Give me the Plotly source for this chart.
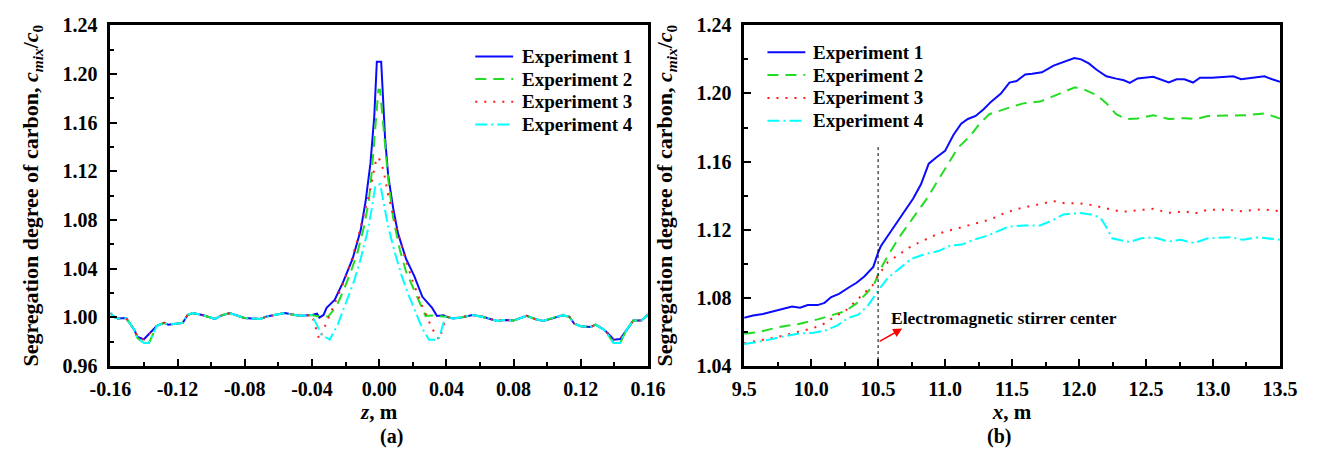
import plotly.graph_objects as go

# ---------------- Panel (a) data ----------------
z_wing_left = [-0.16, -0.1573, -0.1554, -0.1506, -0.1458, -0.1438, -0.140, -0.137, -0.1323, -0.128,
               -0.1255, -0.1169, -0.114, -0.111, -0.1053, -0.0976, -0.0938, -0.0889, -0.0803, -0.0707,
               -0.0668, -0.0562, -0.0476, -0.040]
c_wing_left_13 = [1.0035, 1.000, 0.999, 0.9995, 0.990, 0.984, 0.982, 0.986, 0.993, 0.9955,
                  0.994, 0.9955, 1.002, 1.0035, 1.002, 0.9987, 1.0016, 1.0035, 0.9995, 0.9987,
                  1.0008, 1.0035, 1.0013, 1.002]
c_wing_left_24 = [1.0035, 1.000, 0.999, 0.9995, 0.990, 0.983, 0.979, 0.979, 0.993, 0.9955,
                  0.994, 0.9955, 1.002, 1.0035, 1.002, 0.9987, 1.0016, 1.0035, 0.9995, 0.9987,
                  1.0008, 1.0035, 1.0013, 1.002]

z_wing_right = [0.04, 0.0439, 0.0488, 0.0556, 0.0615, 0.0654, 0.0702, 0.0741, 0.08, 0.0878,
                0.0927, 0.0976, 0.1024, 0.1093, 0.1132, 0.1161, 0.12, 0.1259, 0.1288, 0.1337,
                0.1376, 0.1395, 0.1434, 0.1473, 0.1512, 0.1561, 0.16]
c_wing_right_13 = [1.0005, 0.9992, 1.0, 1.002, 1.0005, 0.9992, 0.997, 0.9979, 0.9974, 1.0013,
                   0.9987, 0.997, 0.9992, 1.0018, 1.0005, 0.9948, 0.9927, 0.9922, 0.994, 0.990,
                   0.9848, 0.9817, 0.9822, 0.990, 0.9974, 0.9974, 1.0023]
c_wing_right_24 = [1.0005, 0.9992, 1.0, 1.002, 1.0005, 0.9992, 0.997, 0.9979, 0.9974, 1.0013,
                   0.9987, 0.997, 0.9992, 1.0018, 1.0005, 0.9948, 0.9927, 0.9922, 0.994, 0.990,
                   0.983, 0.979, 0.979, 0.990, 0.9974, 0.9974, 1.0023]

z_center_1 = [-0.037, -0.0356, -0.0331, -0.0313, -0.0265, -0.0216, -0.0158, -0.011, -0.0081, -0.0052,
              -0.0029, -0.0014, 0.0012, 0.0035, 0.0054, 0.0083, 0.0112, 0.016, 0.0209, 0.0257,
              0.0315, 0.0344, 0.0383]
c_center_1 = [1.003, 0.9999, 1.002, 1.0078, 1.0143, 1.0286, 1.0482, 1.0717, 1.0952, 1.1265,
              1.1656, 1.21, 1.21, 1.1474, 1.116, 1.09, 1.069, 1.048, 1.0339, 1.0169,
              1.0078, 1.0012, 1.0017]

z_center_2 = [-0.037, -0.0303, -0.0255, -0.0216, -0.0168, -0.0129, -0.0091, -0.0062, -0.0043, -0.0023,
              -0.0005, 0.0005, 0.0035, 0.0054, 0.0083, 0.0122, 0.016, 0.0209, 0.0257, 0.0276,
              0.032, 0.036]
c_center_2 = [1.001, 1.0007, 1.009, 1.0208, 1.0378, 1.0534, 1.0743, 1.0952, 1.1213, 1.1526,
              1.187, 1.187, 1.1422, 1.1134, 1.082, 1.056, 1.0375, 1.0221, 1.0078, 1.0012,
              1.0015, 1.001]

z_center_3 = [-0.0356, -0.0313, -0.0265, -0.0216, -0.0168, -0.0129, -0.0091, -0.0052, -0.0023, -0.0004,
              0.0025, 0.0054, 0.0102, 0.015, 0.0199, 0.0257, 0.0315, 0.0357]
c_center_3 = [0.9817, 0.996, 1.0117, 1.0273, 1.0456, 1.0639, 1.0847, 1.1056, 1.1265, 1.1317,
              1.1213, 1.1004, 1.0743, 1.0508, 1.0299, 1.0091, 0.9908, 0.9817]

z_center_4 = [-0.0342, -0.0294, -0.0245, -0.0197, -0.0149, -0.011, -0.0072, -0.0043, -0.0023, 0.0006,
              0.0025, 0.0054, 0.0093, 0.0131, 0.0179, 0.0228, 0.0257, 0.0296, 0.0354, 0.0392]
c_center_4 = [0.9856, 0.9817, 0.9947, 1.0117, 1.03, 1.0482, 1.0691, 1.09, 1.1082, 1.1095,
              1.095, 1.0743, 1.0534, 1.0352, 1.0169, 1.001, 0.9908, 0.9817, 0.9817, 1.0]

# ---------------- Panel (b) data ----------------
x_exp1 = [9.5, 9.567, 9.64, 9.756, 9.858, 9.917, 9.975, 10.048, 10.1, 10.15, 10.208, 10.281, 10.339,
          10.397, 10.464, 10.5, 10.52, 10.601, 10.689, 10.762, 10.82, 10.878, 10.936, 11.0, 11.062,
          11.12, 11.17, 11.228, 11.286, 11.344, 11.417, 11.48, 11.534, 11.598, 11.65, 11.723, 11.81,
          11.898, 11.965, 12.015, 12.073, 12.131, 12.204, 12.277, 12.335, 12.379, 12.437, 12.554,
          12.612, 12.67, 12.728, 12.787, 12.851, 12.903, 12.991, 13.078, 13.151, 13.21, 13.282,
          13.384, 13.442, 13.5]
c_exp1 = [1.0684, 1.0697, 1.0706, 1.073, 1.0749, 1.0743, 1.0758, 1.0758, 1.0771, 1.0805, 1.0824,
          1.0861, 1.0889, 1.0926, 1.0982, 1.1066, 1.1103, 1.1197, 1.1299, 1.1383, 1.1467, 1.1588,
          1.1626, 1.1663, 1.1756, 1.1822, 1.185, 1.1868, 1.1906, 1.1952, 1.1999, 1.2064, 1.2073,
          1.2111, 1.2115, 1.2124, 1.2163, 1.2189, 1.2208, 1.22, 1.2176, 1.2139, 1.2101, 1.2087,
          1.2077, 1.2062, 1.2088, 1.2098, 1.2083, 1.2064, 1.2083, 1.2083, 1.2064, 1.2092, 1.2092,
          1.2096, 1.2101, 1.2083, 1.2092, 1.2101, 1.2083, 1.2068]

x_exp2 = [9.5, 9.61, 9.756, 9.9, 10.048, 10.164, 10.252, 10.339, 10.41, 10.47, 10.508, 10.572, 10.66,
          10.762, 10.864, 10.951, 11.024, 11.097, 11.184, 11.257, 11.33, 11.417, 11.505, 11.592,
          11.709, 11.796, 11.883, 11.971, 12.044, 12.131, 12.204, 12.277, 12.35, 12.437, 12.554,
          12.67, 12.787, 12.874, 12.962, 13.107, 13.253, 13.384, 13.5]
c_exp2 = [1.059, 1.060, 1.0628, 1.0646, 1.0674, 1.0702, 1.0721, 1.0768, 1.0824, 1.0879, 1.0954,
          1.1047, 1.1159, 1.1271, 1.1383, 1.1495, 1.1588, 1.1682, 1.1747, 1.1822, 1.1878, 1.1902,
          1.1924, 1.1943, 1.1952, 1.198, 1.2008, 1.2036, 1.2021, 1.199, 1.1943, 1.1878, 1.185,
          1.1853, 1.1872, 1.185, 1.1855, 1.185, 1.1868, 1.1868, 1.1872, 1.1883, 1.1853]

x_exp3 = [9.5, 9.64, 9.756, 9.9, 10.019, 10.106, 10.179, 10.252, 10.339, 10.41, 10.47, 10.5, 10.572,
          10.66, 10.747, 10.849, 10.951, 11.038, 11.126, 11.242, 11.344, 11.446, 11.563, 11.679,
          11.81, 11.898, 12.0, 12.087, 12.204, 12.32, 12.408, 12.554, 12.67, 12.787, 12.859, 12.962,
          13.107, 13.195, 13.369, 13.5]
c_exp3 = [1.0534, 1.0553, 1.0572, 1.060, 1.0624, 1.0652, 1.0693, 1.0721, 1.0786, 1.0842, 1.0883,
          1.0932, 1.101, 1.1057, 1.1103, 1.1141, 1.1178, 1.1197, 1.1215, 1.1243, 1.1262, 1.1299,
          1.1327, 1.1346, 1.1368, 1.1355, 1.1355, 1.1346, 1.1327, 1.1305, 1.1312, 1.1323, 1.1299,
          1.1309, 1.1294, 1.1318, 1.1318, 1.1309, 1.132, 1.1309]

x_exp4 = [9.5, 9.64, 9.756, 9.9, 10.019, 10.106, 10.193, 10.281, 10.353, 10.427, 10.5, 10.572, 10.66,
          10.747, 10.849, 10.951, 11.038, 11.126, 11.213, 11.33, 11.476, 11.592, 11.709, 11.796,
          11.883, 12.0, 12.087, 12.16, 12.204, 12.248, 12.32, 12.379, 12.466, 12.554, 12.67, 12.758,
          12.859, 12.962, 13.136, 13.224, 13.34, 13.5]
c_exp4 = [1.0529, 1.0547, 1.0568, 1.059, 1.0596, 1.0609, 1.0637, 1.0684, 1.0702, 1.0758, 1.0842,
          1.0917, 1.0973, 1.1029, 1.1057, 1.1075, 1.1107, 1.1113, 1.1141, 1.1169, 1.1219, 1.1225,
          1.1225, 1.1253, 1.129, 1.1299, 1.129, 1.1271, 1.1215, 1.115, 1.1137, 1.1128, 1.115,
          1.1156, 1.1131, 1.1141, 1.1122, 1.115, 1.1156, 1.1141, 1.1156, 1.1141]

series_names = ["Experiment 1", "Experiment 2", "Experiment 3", "Experiment 4"]

z_ticks = [-0.16, -0.12, -0.08, -0.04, 0.00, 0.04, 0.08, 0.12, 0.16]
z_ticktext = ["-0.16", "-0.12", "-0.08", "-0.04", "0.00", "0.04", "0.08", "0.12", "0.16"]
ya_ticks = [0.96, 1.00, 1.04, 1.08, 1.12, 1.16, 1.20, 1.24]
x_ticks = [9.5, 10.0, 10.5, 11.0, 11.5, 12.0, 12.5, 13.0, 13.5]
yb_ticks = [1.04, 1.08, 1.12, 1.16, 1.20, 1.24]

stirrer_x = 10.5
stirrer_label = "Electromagnetic stirrer center"

# ---------------- styling ----------------
W, H = 1330, 458
FONT = "Liberation Serif"
colors = ["#0a0aff", "#22dd22", "#ff1a1a", "#00ffff"]
dashes = ["solid", "11px,7px", "2px,7px", "12px,4px,2px,4px"]

panel_a = [
    (z_wing_left + z_center_1 + z_wing_right, c_wing_left_13 + c_center_1 + c_wing_right_13),
    (z_wing_left + z_center_2 + z_wing_right, c_wing_left_24 + c_center_2 + c_wing_right_24),
    (z_wing_left + z_center_3 + z_wing_right, c_wing_left_13 + c_center_3 + c_wing_right_13),
    (z_wing_left + z_center_4 + z_wing_right, c_wing_left_24 + c_center_4 + c_wing_right_24),
]
panel_b = [(x_exp1, c_exp1), (x_exp2, c_exp2), (x_exp3, c_exp3), (x_exp4, c_exp4)]

fig = go.Figure()
for i, (xs, ys) in enumerate(panel_a):
    fig.add_trace(go.Scatter(x=xs, y=ys, mode="lines", name=series_names[i], showlegend=False,
                             line=dict(color=colors[i], width=2, dash=dashes[i]),
                             xaxis="x", yaxis="y"))
for i, (xs, ys) in enumerate(panel_b):
    fig.add_trace(go.Scatter(x=xs, y=ys, mode="lines", name=series_names[i], showlegend=False,
                             line=dict(color=colors[i], width=2, dash=dashes[i]),
                             xaxis="x2", yaxis="y2"))

tickfont = dict(family=FONT, size=20, color="black", weight="bold")
ytitlefont = dict(family=FONT, size=22, color="black", weight="bold")
xtitlefont = dict(family=FONT, size=21, color="black", weight="bold")
common = dict(showline=True, linewidth=2.5, linecolor="black", mirror=True, showgrid=False,
              zeroline=False, ticks="inside", ticklen=7, tickwidth=2, tickcolor="black",
              tickfont=tickfont)
minor = dict(ticks="inside", ticklen=4, tickwidth=2, tickcolor="black", showgrid=False)

ytitle = "Segregation degree of carbon, <i>c</i><sub><i>mix</i></sub>/<i>c</i><sub>0</sub>"
ydom = [85 / H, 443 / H]

fig.update_layout(
    width=W, height=H,
    margin=dict(l=0, r=0, t=0, b=0),
    paper_bgcolor="white", plot_bgcolor="white",
    showlegend=False,
    xaxis=dict(domain=[92 / W, 646 / W], range=[-0.16, 0.16], anchor="y",
               tickvals=z_ticks, ticktext=z_ticktext, ticklabelstandoff=3,
               minor=dict(dtick=0.02, tick0=-0.16, **minor),
               title=dict(text="<i>z</i>, m", font=xtitlefont, standoff=0), **common),
    yaxis=dict(domain=ydom, range=[0.96, 1.24], anchor="x",
               tickvals=ya_ticks, tickformat=".2f", ticklabelstandoff=6,
               minor=dict(dtick=0.02, tick0=0.96, **minor),
               title=dict(text=ytitle, font=ytitlefont, standoff=18), **common),
    xaxis2=dict(domain=[745 / W, 1297 / W], range=[9.5, 13.5], anchor="y2",
                tickvals=x_ticks, tickformat=".1f", ticklabelstandoff=3,
                minor=dict(dtick=0.25, tick0=9.5, **minor),
                title=dict(text="<i>x</i>, m", font=xtitlefont, standoff=0), **common),
    yaxis2=dict(domain=ydom, range=[1.04, 1.24], anchor="x2",
                tickvals=yb_ticks, tickformat=".2f", ticklabelstandoff=6,
                minor=dict(dtick=0.02, tick0=1.04, **minor),
                title=dict(text=ytitle, font=ytitlefont, standoff=18), **common),
)

# manual legends (sample line + label), positions in pixels of the page
legend_font = dict(family=FONT, size=19, color="black", weight="bold")
legend_specs = [  # (line x0, line x1, text x, first row y, row step)
    (468, 507, 514, 47.7, 23.8),
    (769, 808, 814, 43.3, 24.0),
]
for lx0, lx1, tx, ry0, step in legend_specs:
    for i, name in enumerate(series_names):
        ry = ry0 + i * step
        fig.add_shape(type="line", xref="paper", yref="paper",
                      x0=lx0 / W, x1=lx1 / W, y0=1 - ry / H, y1=1 - ry / H,
                      line=dict(color=colors[i], width=2, dash=dashes[i]))
        fig.add_annotation(xref="paper", yref="paper", x=tx / W, y=1 - ry / H,
                           xanchor="left", yanchor="middle", text=name, showarrow=False,
                           font=legend_font)

# stirrer center line and annotation
fig.add_shape(type="line", xref="x2", yref="y2", x0=stirrer_x, x1=stirrer_x, y0=1.04, y1=1.1685,
              line=dict(color="black", width=1, dash="dot"))
fig.add_annotation(xref="x2", yref="y2", x=10.68, y=1.062, ax=stirrer_x, ay=1.054,
                   axref="x2", ayref="y2", text="", showarrow=True, arrowhead=2,
                   arrowsize=1.2, arrowwidth=1.5, arrowcolor="#ff0000")
fig.add_annotation(xref="x2", yref="y2", x=10.58, y=1.068, xanchor="left", yanchor="middle",
                   text=stirrer_label, showarrow=False,
                   font=dict(family=FONT, size=17.5, color="black", weight="bold"))

# panel labels
for label, cx in (("(a)", 369), ("(b)", 1021)):
    fig.add_annotation(xref="paper", yref="paper", x=cx / W, y=-2 / H, text=label,
                       showarrow=False, yanchor="bottom", borderpad=0,
                       font=dict(family=FONT, size=20, color="black", weight="bold"))

fig.write_html("out.html")
